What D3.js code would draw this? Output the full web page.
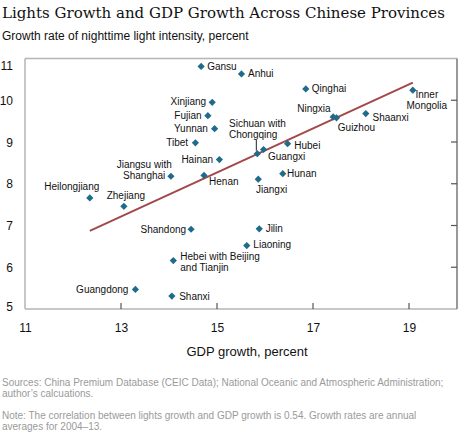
<!DOCTYPE html>
<html><head><meta charset="utf-8">
<script src="https://cdn.jsdelivr.net/npm/d3@7"></script>
<style>
body{margin:0;background:#fff;}
svg{display:block;}
</style></head>
<body>
<svg id="chart" width="460" height="435"></svg>
<script>
// ---- data ----
const provinces = ["Gansu","Anhui","Qinghai","Inner Mongolia","Ningxia","Guizhou","Shaanxi","Hubei","Guangxi","Sichuan with Chongqing","Hunan","Jiangxi","Xinjiang","Fujian","Yunnan","Tibet","Hainan","Jiangsu with Shanghai","Henan","Heilongjiang","Zhejiang","Shandong","Hebei with Beijing and Tianjin","Guangdong","Shanxi","Jilin","Liaoning"];
const gdpGrowth = [14.67,15.51,16.85,19.08,17.42,17.49,18.10,16.47,15.97,15.84,16.37,15.86,14.90,14.81,14.95,14.55,15.05,14.04,14.73,12.35,13.06,14.46,14.09,13.30,14.06,15.88,15.62];
const lightsGrowth = [10.81,10.63,10.27,10.24,9.60,9.58,9.68,8.96,8.82,8.72,8.24,8.11,9.95,9.63,9.32,8.98,8.58,8.18,8.20,7.66,7.46,6.91,6.16,5.47,5.31,6.92,6.52];
const labelLines = [["Gansu"],["Anhui"],["Qinghai"],["Inner","Mongolia"],["Ningxia"],["Guizhou"],["Shaanxi"],["Hubei"],["Guangxi"],["Sichuan with","Chongqing"],["Hunan"],["Jiangxi"],["Xinjiang"],["Fujian"],["Yunnan"],["Tibet"],["Hainan"],["Jiangsu with","Shanghai"],["Henan"],["Heilongjiang"],["Zhejiang"],["Shandong"],["Hebei with Beijing","and Tianjin"],["Guangdong"],["Shanxi"],["Jilin"],["Liaoning"]];
const trendGdp = [12.35, 19.08];
const trendLights = [6.87, 10.42];
const xTicks = [11,13,15,17,19];
const yTicks = [5,6,7,8,9,10,11];
const titleText = "Lights Growth and GDP Growth Across Chinese Provinces";
const yTitle = "Growth rate of nighttime light intensity, percent";
const xTitle = "GDP growth, percent";
const sourceLines = ["Sources: China Premium Database (CEIC Data); National Oceanic and Atmospheric Administration;","author\u2019s calcuations."];
const noteLines = ["Note: The correlation between lights growth and GDP growth is 0.54. Growth rates are annual","averages for 2004\u201313."];

// ---- label placement (layout only) ----
const place = {
 "Gansu":{dx:6,dy:[3.5],a:"start"},
 "Anhui":{dx:6.5,dy:[3.5],a:"start"},
 "Qinghai":{dx:6,dy:[3.5],a:"start"},
 "Inner Mongolia":{dx:14,dy:[8.2,18.7],a:"middle"},
 "Ningxia":{dx:-2.5,dy:[-4.8],a:"end"},
 "Guizhou":{dx:1.3,dy:[12.9],a:"start"},
 "Shaanxi":{dx:6.7,dy:[7.2],a:"start"},
 "Hubei":{dx:6.7,dy:[5.5],a:"start"},
 "Guangxi":{dx:4.4,dy:[10.2],a:"start"},
 "Sichuan with Chongqing":{dx:-28.3,dy:[-26.3,-15.8],a:"start",leader:true},
 "Hunan":{dx:4.3,dy:[3.5],a:"start"},
 "Jiangxi":{dx:-2.3,dy:[13.5],a:"start"},
 "Xinjiang":{dx:-6,dy:[2.8],a:"end"},
 "Fujian":{dx:-6.3,dy:[3.5],a:"end"},
 "Yunnan":{dx:-6.7,dy:[3.5],a:"end"},
 "Tibet":{dx:-7.3,dy:[3.2],a:"end"},
 "Hainan":{dx:-6.3,dy:[3.5],a:"end"},
 "Jiangsu with Shanghai":{dx:-26.7,dy:[-8,2.5],a:"middle"},
 "Henan":{dx:5,dy:[9.8],a:"start"},
 "Heilongjiang":{dx:-18,dy:[-7.5],a:"middle"},
 "Zhejiang":{dx:2,dy:[-7.2],a:"middle"},
 "Shandong":{dx:-5,dy:[3.5],a:"end"},
 "Hebei with Beijing and Tianjin":{dx:7,dy:[-0.3,10.2],a:"start"},
 "Guangdong":{dx:-7,dy:[3.2],a:"end"},
 "Shanxi":{dx:7.3,dy:[4.2],a:"start"},
 "Jilin":{dx:6.4,dy:[3.5],a:"start"},
 "Liaoning":{dx:6.6,dy:[2.8],a:"start"}
};

const svg = d3.select("#chart");
const sans = "'Liberation Sans', Arial, sans-serif";
const L = 25, R = 457, T = 58.5, B = 309;
const x = d3.scaleLinear().domain([11,20]).range([L,R]);
const y = d3.scaleLinear().domain([5,11]).range([B,T]);

// Title (fit width)
const title = svg.append("text").attr("x",2).attr("y",18)
  .attr("font-family","'DejaVu Serif', Georgia, serif").attr("font-size",17)
  .attr("fill","#111").text(titleText);
const tw = title.node().getComputedTextLength();
title.attr("font-size", 17*443/tw);

svg.append("text").attr("x",2).attr("y",39.5).attr("font-family",sans)
  .attr("font-size",12).attr("fill","#111").text(yTitle);

// frame
svg.append("line").attr("x1",L).attr("x2",R).attr("y1",T).attr("y2",T).attr("stroke","#b5b5b5").attr("stroke-width",1.5);
svg.append("line").attr("x1",L).attr("x2",L).attr("y1",T).attr("y2",B).attr("stroke","#b5b5b5").attr("stroke-width",1.5);
svg.append("line").attr("x1",L).attr("x2",R).attr("y1",B).attr("y2",B).attr("stroke","#b5b5b5").attr("stroke-width",1.5);
svg.append("line").attr("x1",R).attr("x2",R).attr("y1",T).attr("y2",B).attr("stroke","#777").attr("stroke-width",1.5);

// x axis
const xAxis = d3.axisBottom(x).tickValues(xTicks).tickSize(0).tickPadding(14).tickFormat(d3.format("d"));
const gx = svg.append("g").attr("transform",`translate(0,${B})`).call(xAxis);
gx.select(".domain").remove();
gx.selectAll("text").attr("font-family",sans).attr("font-size",12).attr("fill","#111");
svg.append("g").selectAll("line").data(xTicks.slice(1)).join("line")
  .attr("x1",d=>x(d)).attr("x2",d=>x(d)).attr("y1",B).attr("y2",B-6).attr("stroke","#555").attr("stroke-width",1.2);

// y axis
const yAxis = d3.axisLeft(y).tickValues(yTicks).tickSize(0).tickPadding(12).tickFormat(d3.format("d"));
const gy = svg.append("g").attr("transform",`translate(${L},0)`).call(yAxis);
gy.select(".domain").remove();
gy.selectAll("text").attr("font-family",sans).attr("font-size",12).attr("fill","#111")
  .attr("dy",d=> d===11 ? "0.95em" : d===5 ? "0.1em" : "0.35em");
svg.append("g").selectAll("line").data(yTicks.slice(1,-1)).join("line")
  .attr("x1",R).attr("x2",R-6).attr("y1",d=>y(d)).attr("y2",d=>y(d)).attr("stroke","#555").attr("stroke-width",1.2);

svg.append("text").attr("x",247).attr("y",356).attr("text-anchor","middle")
  .attr("font-family",sans).attr("font-size",13).attr("fill","#111").text(xTitle);

// trend line
const trend = trendGdp.map((g,i)=>[g,trendLights[i]]);
svg.append("path").datum(trend)
  .attr("d",d3.line().x(d=>x(d[0])).y(d=>y(d[1])))
  .attr("stroke","#a3484a").attr("stroke-width",2).attr("fill","none");

// points
const pts = provinces.map((p,i)=>({name:p,gx:gdpGrowth[i],ly:lightsGrowth[i],lines:labelLines[i]}));
const sym = d3.symbol().type(d3.symbolSquare).size(26);
svg.append("g").selectAll("path").data(pts).join("path")
  .attr("d",sym)
  .attr("transform",d=>`translate(${x(d.gx)},${y(d.ly)}) rotate(45)`)
  .attr("fill","#1f6b8c");

// labels
const lg = svg.append("g").attr("font-family",sans).attr("font-size",10).attr("fill","#111");
pts.forEach(d=>{
  const p = place[d.name];
  const px = x(d.gx), py = y(d.ly);
  d.lines.forEach((ln,j)=>{
    lg.append("text").attr("x",px+p.dx).attr("y",py+p.dy[j]).attr("text-anchor",p.a).text(ln);
  });
  if(p.leader){
    svg.append("line").attr("x1",px-1).attr("x2",px-1).attr("y1",py-14).attr("y2",py-3)
      .attr("stroke","#222").attr("stroke-width",1);
  }
});

// footnotes
const fg = svg.append("g").attr("font-family",sans).attr("font-size",10).attr("fill","#9a9a9a");
sourceLines.forEach((t,i)=>fg.append("text").attr("x",2).attr("y",386+i*11).text(t));
noteLines.forEach((t,i)=>fg.append("text").attr("x",2).attr("y",419+i*11).text(t));
</script>
</body></html>
